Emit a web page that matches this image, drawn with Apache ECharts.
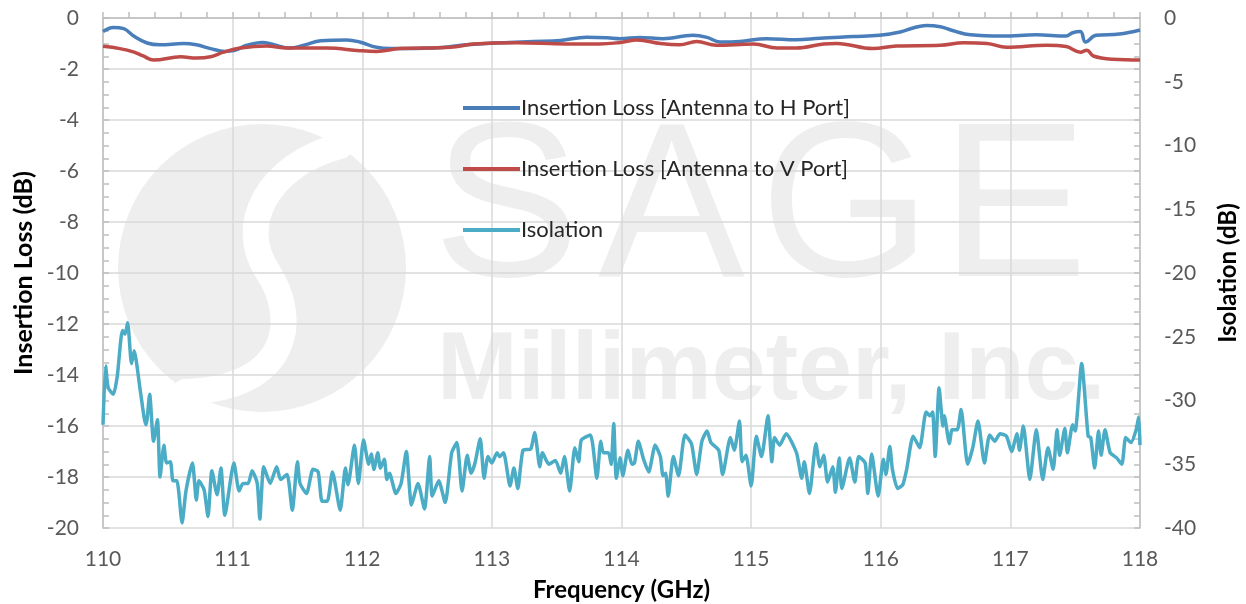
<!DOCTYPE html>
<html>
<head>
<meta charset="utf-8">
<script src="https://cdn.jsdelivr.net/npm/echarts@6/dist/echarts.min.js"></script>
<style>
html,body{margin:0;padding:0;background:#fff;}
#c{width:1246px;height:604px;}
</style>
</head>
<body>
<div id="c"></div>
<script>
// ---- Data ----
const seriesNames = ['Insertion Loss [Antenna to H Port]', 'Insertion Loss [Antenna to V Port]', 'Isolation'];

const hFreq = [110,110.08,110.16,110.24,110.34,110.44,110.62,110.72,110.83,110.94,111.01,111.11,111.23,111.32,111.44,111.55,111.68,111.88,111.98,112.11,112.22,112.55,112.81,113.06,113.32,113.53,113.73,113.89,113.99,114.14,114.32,114.55,114.66,114.76,114.91,115.12,115.35,115.53,115.79,115.99,116.15,116.25,116.35,116.46,116.56,116.69,116.94,117.2,117.43,117.48,117.54,117.58,117.66,117.84,118];
const hLoss = [-0.53,-0.37,-0.42,-0.72,-0.98,-1.05,-1.0,-1.05,-1.2,-1.31,-1.28,-1.07,-0.96,-1.05,-1.18,-1.07,-0.89,-0.86,-0.94,-1.15,-1.2,-1.18,-1.05,-0.97,-0.92,-0.88,-0.75,-0.77,-0.81,-0.76,-0.81,-0.68,-0.76,-0.94,-0.92,-0.81,-0.85,-0.79,-0.73,-0.68,-0.55,-0.39,-0.29,-0.34,-0.5,-0.66,-0.71,-0.66,-0.71,-0.58,-0.53,-0.94,-0.68,-0.63,-0.47];

const vFreq = [110,110.13,110.24,110.31,110.39,110.6,110.72,110.83,110.93,111.06,111.26,111.42,111.73,111.98,112.11,112.29,112.68,112.86,113.19,113.58,113.83,113.99,114.12,114.3,114.45,114.58,114.73,115.02,115.2,115.35,115.56,115.66,115.94,116.12,116.46,116.64,116.82,116.97,117.28,117.43,117.54,117.59,117.64,117.79,118];
const vLoss = [-1.11,-1.2,-1.34,-1.49,-1.65,-1.52,-1.57,-1.52,-1.34,-1.18,-1.1,-1.18,-1.18,-1.28,-1.31,-1.2,-1.15,-1.02,-0.97,-1.02,-1.02,-0.96,-0.86,-1.0,-1.05,-0.92,-1.07,-1.02,-1.18,-1.18,-1.02,-1.0,-1.2,-1.1,-1.07,-0.97,-1.0,-1.15,-1.07,-1.12,-1.34,-1.26,-1.49,-1.62,-1.65];

const isoFreq = [110,110.02,110.04,110.08,110.11,110.15,110.17,110.19,110.22,110.24,110.29,110.33,110.34,110.36,110.39,110.42,110.44,110.47,110.49,110.52,110.54,110.57,110.61,110.64,110.69,110.72,110.74,110.78,110.81,110.84,110.88,110.91,110.94,111.01,111.05,111.08,111.12,111.15,111.19,111.21,111.24,111.29,111.34,111.37,111.42,111.46,111.5,111.52,111.57,111.62,111.66,111.69,111.73,111.77,111.83,111.87,111.89,111.94,111.97,112.01,112.05,112.07,112.09,112.12,112.14,112.17,112.19,112.21,112.26,112.3,112.34,112.38,112.43,112.48,112.52,112.54,112.59,112.64,112.69,112.73,112.77,112.81,112.84,112.87,112.91,112.94,112.97,113.0,113.04,113.06,113.09,113.14,113.17,113.2,113.24,113.3,113.33,113.37,113.39,113.44,113.49,113.53,113.56,113.6,113.64,113.67,113.69,113.76,113.81,113.84,113.86,113.9,113.92,113.94,113.96,113.99,114.01,114.05,114.08,114.1,114.13,114.17,114.21,114.26,114.3,114.32,114.34,114.36,114.4,114.44,114.49,114.54,114.58,114.62,114.66,114.69,114.75,114.78,114.84,114.87,114.91,114.93,114.96,115.0,115.04,115.08,115.13,115.16,115.18,115.22,115.27,115.35,115.39,115.41,115.45,115.5,115.53,115.56,115.59,115.63,115.65,115.68,115.7,115.76,115.8,115.83,115.88,115.9,115.93,115.98,116.02,116.04,116.07,116.09,116.13,116.17,116.2,116.25,116.3,116.35,116.38,116.4,116.42,116.45,116.48,116.49,116.53,116.55,116.59,116.62,116.67,116.71,116.75,116.8,116.84,116.88,116.92,116.97,117.01,117.05,117.07,117.1,117.15,117.2,117.25,117.29,117.33,117.36,117.38,117.42,117.44,117.48,117.5,117.55,117.6,117.62,117.65,117.68,117.7,117.73,117.77,117.82,117.86,117.89,117.93,117.97,117.99,118];
const isoVal = [-31.9,-27.3,-29.0,-29.5,-28.1,-24.5,-24.8,-23.9,-27.1,-26.1,-29.4,-31.9,-31.5,-29.5,-33.2,-31.5,-36.0,-33.5,-34.9,-34.8,-36.3,-36.3,-39.6,-37.1,-34.9,-37.8,-36.3,-37.0,-39.1,-35.5,-37.4,-35.3,-39.0,-34.9,-37.1,-36.5,-36.5,-35.5,-36.5,-39.3,-35.2,-36.5,-35.2,-36.2,-35.8,-38.6,-34.8,-36.5,-37.3,-35.4,-35.6,-37.9,-37.9,-35.6,-38.6,-35.3,-36.6,-33.5,-36.5,-33.1,-35.0,-34.2,-35.4,-34.1,-35.3,-34.6,-36.2,-35.7,-37.3,-36.5,-34.0,-38.2,-36.5,-38.5,-34.4,-37.5,-36.3,-38.0,-34.1,-33.3,-37.1,-34.3,-35.7,-34.9,-33.0,-36.1,-34.4,-34.9,-34.1,-34.4,-34.1,-36.7,-35.3,-36.9,-33.9,-33.8,-32.5,-35.2,-34.1,-35.0,-34.7,-35.7,-34.4,-37.1,-33.7,-34.8,-33.1,-32.7,-36.1,-33.2,-34.1,-34.1,-35.0,-31.8,-36.1,-34.5,-35.9,-33.9,-35.0,-34.9,-33.2,-34.6,-35.6,-33.5,-34.4,-35.9,-35.7,-37.5,-34.4,-35.9,-32.7,-33.4,-35.8,-33.2,-32.4,-33.3,-33.9,-35.8,-32.9,-33.9,-31.6,-34.8,-34.3,-36.7,-32.8,-34.4,-31.2,-34.8,-32.9,-33.5,-32.6,-34.1,-36.1,-34.8,-37.3,-33.4,-35.2,-34.3,-36.4,-35.2,-37.2,-34.5,-36.9,-34.5,-36.4,-34.4,-34.9,-37.3,-34.2,-37.5,-34.6,-35.8,-33.6,-35.4,-36.9,-36.6,-35.4,-32.8,-33.7,-30.9,-31.2,-30.9,-34.4,-29.0,-32.0,-31.2,-33.4,-32.3,-32.3,-30.7,-35.0,-33.7,-31.6,-34.9,-32.7,-33.2,-32.6,-32.8,-34.0,-32.6,-33.9,-32.0,-36.2,-32.3,-36.2,-33.7,-35.4,-32.3,-34.3,-32.2,-34.1,-31.9,-32.4,-27.1,-32.8,-32.9,-35.3,-32.4,-34.3,-32.3,-34.1,-34.5,-35.0,-32.9,-33.3,-32.3,-31.3,-33.5];

const xTicks = { min: 110, max: 118, interval: 1 };
const leftTicks = { min: -20, max: 0, interval: 2 };
const rightTicks = { min: -40, max: 0, interval: 5 };

function zip(a, b) { return a.map((v, i) => [v, b[i]]); }

// ---- Chart ----
const chart = echarts.init(document.getElementById('c'), null, { renderer: 'canvas' });
const FONT = 'Lato, "Open Sans", sans-serif';
const axisGray = '#bfbfbf';
const labelColor = '#595959';
const wmFont = '"Liberation Sans", Arial, sans-serif';

const option = {
  backgroundColor: '#ffffff',
  animation: false,
  color: ['#4a7ebb', '#be4b48', '#4bacc6'],
  graphic: [
    { type: 'circle', z: -10, silent: true, shape: { cx: 262, cy: 268, r: 144 }, style: { fill: '#eeeeee' } },
    { type: 'bezierCurve', z: -9, silent: true,
      shape: { x1: 340, y1: 146, cpx1: 268, cpy1: 165, cpx2: 236, cpy2: 225, x2: 268, y2: 272 },
      style: { fill: null, stroke: '#ffffff', lineWidth: 26, lineCap: 'round' } },
    { type: 'bezierCurve', z: -9, silent: true,
      shape: { x1: 268, y1: 272, cpx1: 298, cpy1: 318, cpx2: 292, cpy2: 388, x2: 185, y2: 392 },
      style: { fill: null, stroke: '#ffffff', lineWidth: 26, lineCap: 'round' } },
    { type: 'text', z: -10, silent: true, style: { x: 433, y: 215, text: 'S', font: '220px ' + wmFont, fill: '#eeeeee', verticalAlign: 'middle' } },
    { type: 'text', z: -10, silent: true, style: { x: 598, y: 215, text: 'A', font: '220px ' + wmFont, fill: '#eeeeee', verticalAlign: 'middle' } },
    { type: 'text', z: -10, silent: true, style: { x: 760, y: 215, text: 'G', font: '220px ' + wmFont, fill: '#eeeeee', verticalAlign: 'middle' } },
    { type: 'text', z: -10, silent: true, style: { x: 941, y: 215, text: 'E', font: '220px ' + wmFont, fill: '#eeeeee', verticalAlign: 'middle' } },
    { type: 'text', z: -10, silent: true, style: { x: 437, y: 372, text: 'Millimeter, Inc.', font: 'bold 97px ' + wmFont, fill: '#eeeeee', verticalAlign: 'middle' } }
  ],
  grid: { left: 103, right: 106, top: 18, bottom: 76, containLabel: false, outerBoundsMode: 'none' },
  legend: {
    orient: 'vertical',
    left: 458, top: 92,
    itemGap: 39,
    itemWidth: 57, itemHeight: 4,
    icon: 'rect',
    textStyle: { fontFamily: FONT, fontSize: 22, color: '#262626', padding: [0, 0, 0, -4] },
    data: seriesNames
  },
  xAxis: {
    type: 'value',
    min: xTicks.min, max: xTicks.max, interval: xTicks.interval,
    name: 'Frequency (GHz)', nameLocation: 'middle', nameGap: 50,
    nameTextStyle: { fontFamily: FONT, fontSize: 24, fontWeight: 'bold', color: '#000' },
    axisLine: { show: true, lineStyle: { color: axisGray, width: 1.5 } },
    axisTick: { show: true, inside: true, length: 6, lineStyle: { color: axisGray, width: 1.5 } },
    minorTick: { show: true, splitNumber: 5, length: 6, lineStyle: { color: axisGray, width: 1.5 } },
    axisLabel: { fontFamily: FONT, fontSize: 21, color: labelColor, margin: 21 },
    splitLine: { show: true, lineStyle: { color: '#d9d9d9', width: 1.5 } }
  },
  yAxis: [
    {
      type: 'value', position: 'left',
      min: leftTicks.min, max: leftTicks.max, interval: leftTicks.interval,
      name: 'Insertion Loss (dB)', nameLocation: 'middle', nameGap: 56, nameRotate: 90,
      nameTextStyle: { fontFamily: FONT, fontSize: 25, fontWeight: 'bold', color: '#000' },
      axisLine: { show: true, lineStyle: { color: axisGray, width: 1.5 } },
      axisTick: { show: true, inside: true, length: 6, lineStyle: { color: axisGray, width: 1.5 } },
      minorTick: { show: true, splitNumber: 4, length: 6, lineStyle: { color: axisGray, width: 1.5 } },
      axisLabel: { fontFamily: FONT, fontSize: 21, color: labelColor, margin: 24 },
      splitLine: { show: true, lineStyle: { color: '#d9d9d9', width: 1.5 } }
    },
    {
      type: 'value', position: 'right',
      min: rightTicks.min, max: rightTicks.max, interval: rightTicks.interval,
      name: 'Isolation (dB)', nameLocation: 'middle', nameGap: 76, nameRotate: 90,
      nameTextStyle: { fontFamily: FONT, fontSize: 24, fontWeight: 'bold', color: '#000' },
      axisLine: { show: true, lineStyle: { color: axisGray, width: 1.5 } },
      axisTick: { show: true, inside: true, length: 6, lineStyle: { color: axisGray, width: 1.5 } },
      minorTick: { show: true, splitNumber: 5, length: 6, lineStyle: { color: axisGray, width: 1.5 } },
      axisLabel: { fontFamily: FONT, fontSize: 21, color: labelColor, margin: 24 },
      splitLine: { show: false }
    }
  ],
  series: [
    { name: seriesNames[0], type: 'line', yAxisIndex: 0, data: zip(hFreq, hLoss), showSymbol: false, smooth: 0.4, lineStyle: { width: 3.5 }, z: 3 },
    { name: seriesNames[1], type: 'line', yAxisIndex: 0, data: zip(vFreq, vLoss), showSymbol: false, smooth: 0.4, lineStyle: { width: 3.5 }, z: 3 },
    { name: seriesNames[2], type: 'line', yAxisIndex: 1, data: zip(isoFreq, isoVal), showSymbol: false, smooth: 0.2, lineStyle: { width: 3.5 }, z: 3 }
  ]
};
chart.setOption(option);
</script>
</body>
</html>
